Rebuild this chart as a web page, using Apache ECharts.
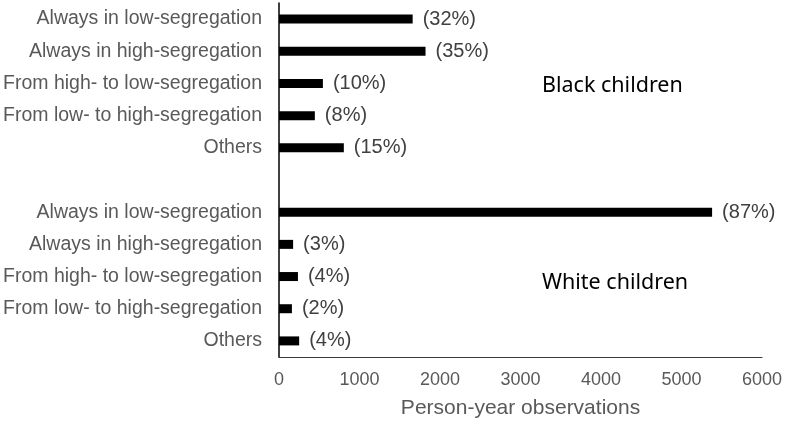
<!DOCTYPE html>
<html>
<head>
<meta charset="utf-8">
<script src="https://cdn.jsdelivr.net/npm/echarts@6/dist/echarts.min.js"></script>
<style>
  html, body { margin: 0; padding: 0; background: #fff; }
  #chart { width: 790px; height: 425px; }
</style>
</head>
<body>
<div id="chart"></div>
<script>
// rows top to bottom, blank row separates the two groups
var categories = [
	'Always in low-segregation', 'Always in high-segregation', 'From high- to low-segregation',
	'From low- to high-segregation', 'Others', '',
	'Always in low-segregation', 'Always in high-segregation', 'From high- to low-segregation',
	'From low- to high-segregation', 'Others'
];
var observations = [1660, 1820, 545, 445, 805, null, 5380, 175, 235, 160, 250];
var shares = ['(32%)', '(35%)', '(10%)', '(8%)', '(15%)', '', '(87%)', '(3%)', '(4%)', '(2%)', '(4%)'];
var xTicks = [0, 1000, 2000, 3000, 4000, 5000, 6000];

var chart = echarts.init(document.getElementById('chart'));

var option = {
	animation: false,
	grid: { left: 278, right: 28, top: 3, bottom: 68 },
	xAxis: {
		type: 'value',
		min: xTicks[0],
		max: xTicks[xTicks.length - 1],
		interval: 1000,
		name: 'Person-year observations',
		nameLocation: 'middle',
		nameGap: 41,
		nameTextStyle: { fontFamily: 'Liberation Sans', fontSize: 21, color: '#595959' },
		axisLine: { show: true, lineStyle: { color: '#3a3a3a', width: 1.2 } },
		axisTick: { show: false },
		splitLine: { show: false },
		axisLabel: {
			fontFamily: 'Liberation Sans', fontSize: 18, color: '#595959', margin: 14,
			formatter: function (v) { return String(v); }
		}
	},
	yAxis: {
		type: 'category',
		data: categories,
		inverse: true,
		axisLine: { show: true, lineStyle: { color: '#000', width: 1.5 } },
		axisTick: { show: false },
		axisLabel: { fontFamily: 'Liberation Sans', fontSize: 19.5, color: '#595959', margin: 17 }
	},
	series: [{
		type: 'bar',
		data: observations,
		barWidth: 9,
		itemStyle: { color: '#000' },
		label: {
			show: true,
			position: 'right',
			distance: 10,
			fontFamily: 'Liberation Sans',
			fontSize: 20,
			color: '#404040',
			formatter: function (p) { return shares[p.dataIndex]; }
		}
	}],
	graphic: [
		{ type: 'text', x: 542, y: 86, style: { text: 'Black children', fontFamily: 'Noto Sans', fontSize: 21.5, fill: '#000', verticalAlign: 'middle' } },
		{ type: 'text', x: 542, y: 283, style: { text: 'White children', fontFamily: 'Noto Sans', fontSize: 21.5, fill: '#000', verticalAlign: 'middle' } }
	]
};

chart.setOption(option);
</script>
</body>
</html>
